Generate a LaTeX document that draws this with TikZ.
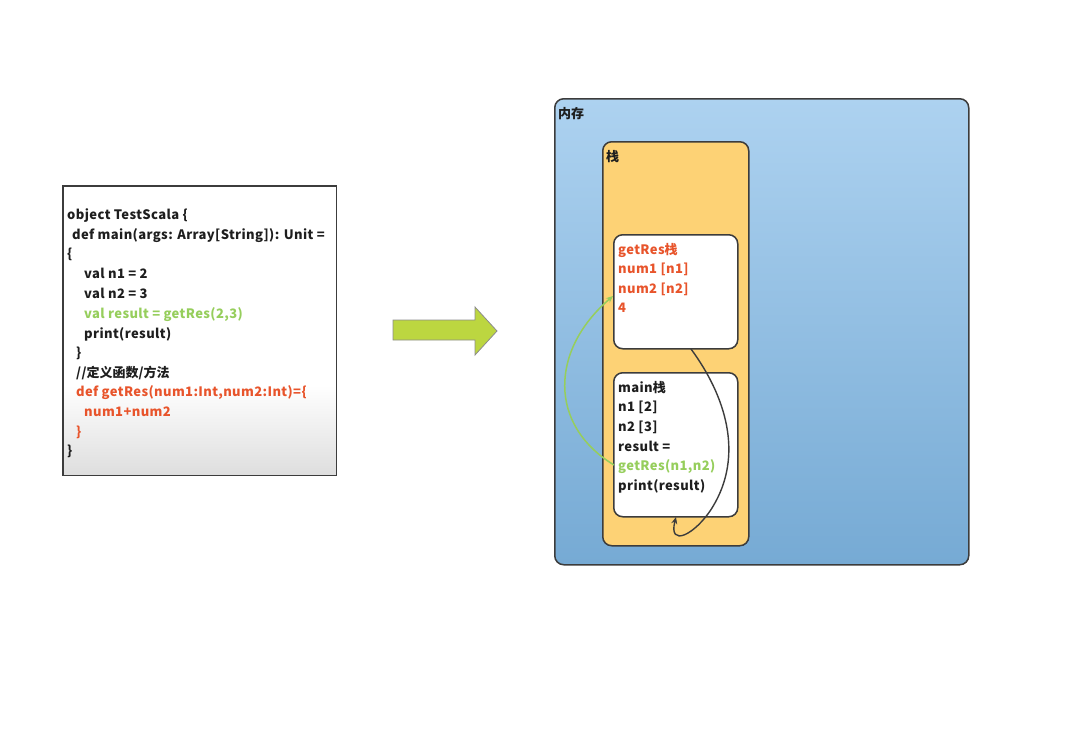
\documentclass[tikz,border=0pt]{standalone}
\usepackage{fontspec}
\setmainfont{Noto Sans CJK SC}[LetterSpace=3]
\newfontfamily\cjk{Noto Sans CJK SC}
\usetikzlibrary{arrows.meta}
\definecolor{codered}{HTML}{E8542B}
\definecolor{codegreen}{HTML}{96CE5C}
\definecolor{txt}{HTML}{1E1E1E}
\definecolor{edge}{HTML}{3C3C3C}
\definecolor{memtop}{HTML}{ADD2F0}
\definecolor{membot}{HTML}{76AAD4}
\definecolor{stackfill}{HTML}{FDD275}
\definecolor{arrowfill}{HTML}{BCD640}
\tikzset{
  txtline/.style={anchor=base west,inner sep=0pt,text=txt,font=\fontsize{13}{15}\selectfont\bfseries},
  frame/.style={draw=edge,line width=1.5pt,rounded corners=9pt,anchor=north west,inner sep=0pt},
  lbl/.style={anchor=base west,inner sep=0pt,text=txt,font=\fontsize{13}{15}\selectfont\bfseries}
}
\begin{document}
\begin{tikzpicture}[x=1pt,y=-1pt]
\useasboundingbox (0,0) rectangle (1080,740);
% code box
\node[fill=white,anchor=north west,inner sep=0pt,minimum width=273pt,minimum height=289pt] (code) at (63,186) {};
\shade[top color=white,bottom color=black!13] (63,385) rectangle (336,475);
\draw[draw=edge,line width=1.3pt] (code.north west) rectangle (code.south east);
\node[txtline] (c1) at (67,219) {object TestScala \{};
\node[txtline] (c2) at (72,239) {def main(args: Array[String]): Unit =};
\node[txtline] (c3) at (67,258) {\{};
\node[txtline] (c4) at (84,278) {val n1 = 2};
\node[txtline] (c5) at (84,298) {val n2 = 3};
\node[txtline,text=codegreen] (c6) at (84,318) {val result = getRes(2,3)};
\node[txtline] (c7) at (84,338) {print(result)};
\node[txtline] (c8) at (76,357) {\}};
\node[txtline] (c9) at (76,377) {//{\cjk 定义函数}/{\cjk 方法}};
\node[txtline,text=codered] (c10) at (76,396) {def getRes(num1:Int,num2:Int)=\{};
\node[txtline,text=codered] (c11) at (84,416) {num1+num2};
\node[txtline,text=codered] (c12) at (76,436) {\}};
\node[txtline] (c13) at (67,455) {\}};
% big arrow
\draw[draw=black!45,line width=0.8pt,fill=arrowfill] (393,320) -- (475,320) -- (475,307) -- (497,331) -- (475,355) -- (475,340) -- (393,340) -- cycle;
% memory
\node[frame,minimum width=414pt,minimum height=466pt,top color=memtop,bottom color=membot] (mem) at (554,98) {};
\node[lbl] (memlbl) at (558,118) {\cjk 内存};
% stack
\node[frame,minimum width=146pt,minimum height=404pt,fill=stackfill] (stack) at (602,141) {};
\node[lbl] (stacklbl) at (606,161) {\cjk 栈};
% getRes frame
\node[frame,minimum width=124pt,minimum height=114pt,fill=white] (gframe) at (613,234) {};
\node[lbl,text=codered] (g1) at (618,254) {getRes{\cjk 栈}};
\node[lbl,text=codered] (g2) at (618,273) {num1 [n1]};
\node[lbl,text=codered] (g3) at (618,293) {num2 [n2]};
\node[lbl,text=codered] (g4) at (618,312) {4};
% main frame
\node[frame,minimum width=124pt,minimum height=144pt,fill=white] (mframe) at (613,372) {};
\node[lbl] (m1) at (618,392) {main{\cjk 栈}};
\node[lbl] (m2) at (618,411) {n1 [2]};
\node[lbl] (m3) at (618,431) {n2 [3]};
\node[lbl] (m4) at (618,451) {result =};
\node[lbl,text=codegreen] (m5) at (618,470) {getRes(n1,n2)};
\node[lbl] (m6) at (618,490) {print(result)};
% connectors
\coordinate (gout) at (691,349);
\coordinate (min) at (676,517);
\coordinate (gin) at (613,296);
\coordinate (mout) at (614,465);
\draw[-{Stealth[length=7pt,width=6pt]},draw=edge,line width=1.4pt]
  (gout) .. controls (725,395) and (745,455) .. (712,508)
  .. controls (695,535) and (668,548) .. (min);
\draw[-{Stealth[length=7pt,width=6pt]},draw=codegreen,line width=1.5pt]
  (mout) .. controls (548,425) and (550,350) .. (gin);
\end{tikzpicture}
\end{document}
